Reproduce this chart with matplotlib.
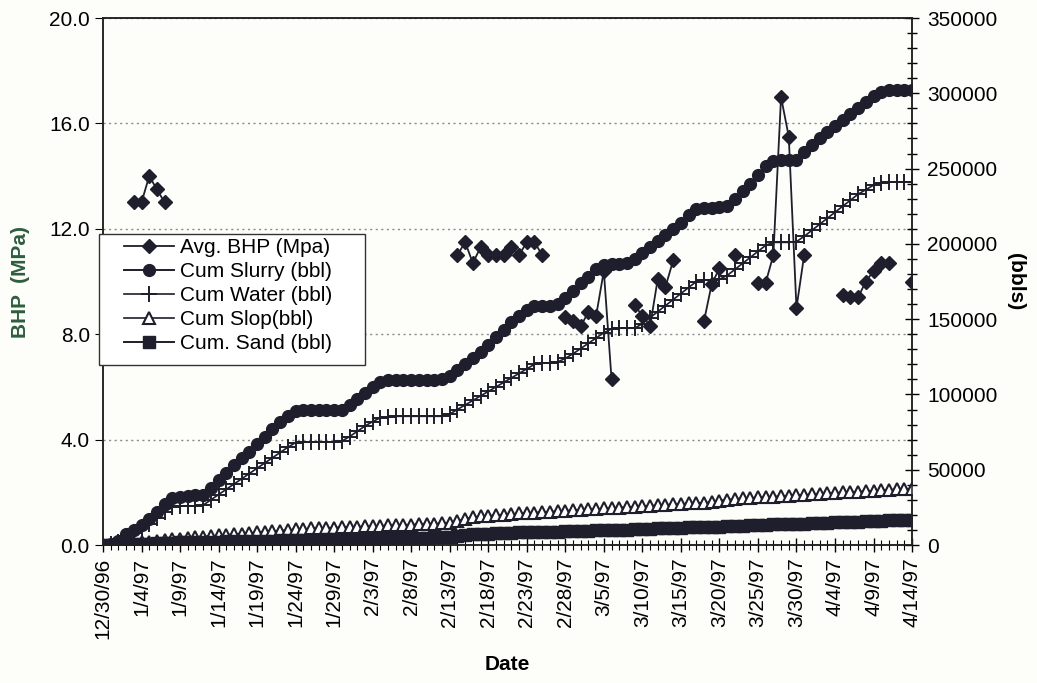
import matplotlib
matplotlib.use('Agg')
import matplotlib.pyplot as plt
import numpy as np
import pandas as pd
from matplotlib.ticker import FixedLocator, FuncFormatter, MultipleLocator
from matplotlib.patches import Rectangle
import matplotlib.dates as mdates

plt.rcParams['font.family'] = ['Liberation Sans', 'DejaVu Sans']

# one point per day, 12/30/96 .. 4/14/97
dates = pd.date_range('1996-12-30', '1997-04-14', freq='D')
nan = np.nan

# Avg. BHP (MPa), gaps where no reading
bhp = [nan, nan, nan, nan, 13.0, 13.0, 14.0, 13.5, 13.0, nan,
       nan, nan, nan, nan, nan, nan, nan, nan, nan, nan,
       nan, nan, nan, nan, nan, nan, nan, nan, nan, nan,
       nan, nan, nan, nan, nan, nan, nan, nan, nan, nan,
       nan, nan, nan, nan, nan, nan, 11.0, 11.5, 10.7, 11.3,
       11.0, 11.0, 11.0, 11.3, 11.0, 11.5, 11.5, 11.0, nan, nan,
       8.65, 8.5, 8.3, 8.85, 8.7, 10.4, 6.3, nan, nan, 9.1,
       8.7, 8.3, 10.1, 9.8, 10.8, nan, nan, nan, 8.5, 9.9,
       10.5, nan, 11.0, nan, nan, 9.95, 9.95, 11.0, 17.0, 15.5,
       9.0, 11.0, nan, nan, nan, nan, 9.5, 9.4, 9.4, 10.0,
       10.4, 10.7, 10.7, nan, nan, 10.0]

# cumulative volumes, thousands of bbl
cum_slurry = [0, 1, 3, 7, 10, 13, 17, 22, 27, 31,
              32, 32.5, 33, 33.5, 38, 43, 48, 53, 58, 62,
              67, 72, 77, 82, 86, 89, 89.5, 89.5, 89.5, 89.5,
              89.5, 90, 93, 97, 101, 105, 108, 109.5, 109.5, 109.5,
              109.5, 109.5, 109.5, 109.5, 110, 112, 116, 120, 124, 128,
              133, 138, 143, 148, 152, 156, 158.5, 159, 159, 160,
              164, 169, 174, 178, 183, 186, 186.5, 186.5, 187, 190,
              194, 198, 202, 206, 210, 214, 219, 223, 224, 224,
              224.5, 225, 230, 235, 240, 246, 252, 255, 255.5, 255.5,
              256, 261, 266, 270, 274, 278, 282, 286, 290, 294,
              298, 301, 302, 302, 302, 302]

cum_water = [0, 0.5, 2, 5, 8, 11, 14, 18, 22, 25,
             26, 26, 26, 26.5, 30, 33.5, 37, 40.5, 44, 47.5,
             51, 54.5, 58, 61.5, 65, 68, 68.5, 68.5, 68.5, 68.5,
             68.5, 69, 72, 75.5, 79, 82, 84.5, 85, 85.5, 85.5,
             85.5, 85.5, 85.5, 85.5, 85.5, 87, 90, 93, 96, 99,
             102, 105, 108, 111, 114, 117, 120, 121, 121, 121.5,
             124, 127, 130.5, 134, 137.5, 141, 143.5, 144, 144, 144,
             147, 151, 155, 159, 163, 167, 171, 175, 176, 176,
             176.5, 179, 183, 187, 191, 195, 199, 201, 201, 201,
             201.5, 205, 209, 213, 217, 221, 225, 229, 233, 236,
             239, 240.5, 241, 241, 241, 241]

cum_slop = [0, 0, 0.3, 0.8, 1.3, 1.8, 2.3, 2.8, 3.3, 3.8,
            4.3, 4.8, 5.2, 5.6, 6.0, 6.4, 6.8, 7.2, 7.6, 8.0,
            8.4, 8.8, 9.2, 9.6, 10.0, 10.4, 10.7, 11.0, 11.2, 11.4,
            11.6, 11.8, 12.0, 12.2, 12.4, 12.6, 12.8, 13.0, 13.2, 13.4,
            13.6, 13.8, 14.0, 14.2, 14.4, 14.6, 16.0, 17.5, 18.5, 19.0,
            19.4, 19.8, 20.2, 20.6, 21.0, 21.3, 21.6, 21.9, 22.2, 22.5,
            22.8, 23.1, 23.4, 23.7, 24.0, 24.3, 24.6, 24.9, 25.2, 25.5,
            25.8, 26.1, 26.4, 26.7, 27.0, 27.3, 27.6, 27.9, 28.2, 28.5,
            29.5, 30.2, 30.6, 31.0, 31.3, 31.6, 31.9, 32.2, 32.5, 32.8,
            33.1, 33.4, 33.7, 34.0, 34.3, 34.6, 34.9, 35.2, 35.5, 35.8,
            36.1, 36.4, 36.7, 37.0, 37.3, 37.5]

cum_sand = [0, 0, 0.2, 0.4, 0.6, 0.8, 1.0, 1.2, 1.4, 1.6,
            1.8, 1.9, 2.0, 2.1, 2.2, 2.3, 2.4, 2.5, 2.6, 2.7,
            2.8, 2.9, 3.0, 3.1, 3.2, 3.3, 3.4, 3.5, 3.6, 3.7,
            3.8, 3.9, 4.0, 4.1, 4.2, 4.3, 4.4, 4.5, 4.6, 4.7,
            4.8, 4.9, 5.0, 5.1, 5.2, 5.3, 6.0, 6.8, 7.2, 7.4,
            7.6, 7.8, 8.0, 8.2, 8.4, 8.5, 8.6, 8.7, 8.8, 8.9,
            9.0, 9.2, 9.4, 9.6, 9.8, 10.0, 10.1, 10.2, 10.3, 10.4,
            10.6, 10.8, 11.0, 11.2, 11.4, 11.6, 11.8, 12.0, 12.1, 12.2,
            12.3, 12.5, 12.7, 12.9, 13.1, 13.3, 13.5, 13.7, 13.8, 13.9,
            14.0, 14.2, 14.4, 14.6, 14.8, 15.0, 15.2, 15.4, 15.6, 15.8,
            16.0, 16.2, 16.3, 16.4, 16.5, 16.6]

ink = '#1e1e2c'

fig = plt.figure(figsize=(10.37, 6.83), dpi=100)
fig.patch.set_facecolor('#fdfdf9')
ax = fig.add_axes([0.0993, 0.202, 0.7802, 0.7716])
ax.set_facecolor('#fdfdf9')
ax2 = ax.twinx()

l_bhp, = ax.plot(dates, bhp, color=ink, lw=1.3, marker='D', ms=7.5,
                 label='Avg. BHP (Mpa)', zorder=3)

k = 1000.0
l_sl, = ax2.plot(dates, np.array(cum_slurry) * k, color=ink, lw=1.4,
                 marker='o', ms=8.5, label='Cum Slurry (bbl)')
l_wa, = ax2.plot(dates, np.array(cum_water) * k, color=ink, lw=1.2,
                 marker='+', ms=11, mew=1.4, label='Cum Water (bbl)')
l_so, = ax2.plot(dates, np.array(cum_slop) * k, color=ink, lw=1.2,
                 marker='^', ms=8, mfc='white', mew=1.5, label='Cum Slop(bbl)')
l_sa, = ax2.plot(dates, np.array(cum_sand) * k, color=ink, lw=1.4,
                 marker='s', ms=8, label='Cum. Sand (bbl)')

# left axis
ax.set_ylim(0, 20)
ax.set_yticks([0, 4, 8, 12, 16, 20])
ax.yaxis.set_major_formatter(FuncFormatter(lambda v, p: f'{v:.1f}'))
ax.grid(axis='y', linestyle=(0, (1.5, 2.5)), color='#8a8a8a', lw=1.0)
ax.set_ylabel('BHP  (MPa)', fontsize=15, fontweight='bold', color='#2e5e3e', labelpad=14)

# right axis
ax2.set_ylim(0, 350000)
ax2.yaxis.set_major_locator(MultipleLocator(50000))
ax2.yaxis.set_minor_locator(MultipleLocator(10000))
ax2.set_ylabel('(bbls)', fontsize=15, fontweight='bold', rotation=270, labelpad=20)
ax2.tick_params(axis='y', which='major', direction='inout', length=10, width=1,
                labelsize=15, pad=6)
ax2.tick_params(axis='y', which='minor', direction='inout', length=7, width=1)

# date axis
ax.set_xlim(dates[0], dates[-1])
ax.xaxis.set_major_locator(FixedLocator(mdates.date2num(dates[::5])))
ax.xaxis.set_minor_locator(FixedLocator(mdates.date2num(dates)))
ax.xaxis.set_major_formatter(FuncFormatter(
    lambda v, p: (lambda d: f'{d.month}/{d.day}/{d:%y}')(mdates.num2date(v))))
ax.tick_params(axis='x', which='major', direction='inout', length=10, width=1,
               labelsize=15, labelrotation=90, pad=4)
ax.tick_params(axis='x', which='minor', direction='inout', length=7, width=0.8)
ax.tick_params(axis='y', which='major', direction='out', length=6, labelsize=15)
ax.set_xlabel('Date', fontsize=15, fontweight='bold', labelpad=12)

for a in (ax, ax2):
    for s in a.spines.values():
        s.set_color('#222222')
        s.set_linewidth(1.1)

# legend: plain box drawn separately, entries placed inside it
box = Rectangle((99 / 1037, 1 - 365 / 683), 266 / 1037, 131 / 683,
                transform=fig.transFigure, facecolor='white',
                edgecolor='#333333', lw=1.0, zorder=10)
fig.patches.append(box)
leg = fig.legend(handles=[l_bhp, l_sl, l_wa, l_so, l_sa], loc='upper left',
                 bbox_to_anchor=(122 / 1037, 1 - 236 / 683),
                 borderaxespad=0, fontsize=15, labelspacing=0.24, handlelength=2.4,
                 handletextpad=0.3, borderpad=0.1, frameon=False)
leg.set_zorder(11)

fig.savefig('out.png', dpi=100, facecolor=fig.get_facecolor())
